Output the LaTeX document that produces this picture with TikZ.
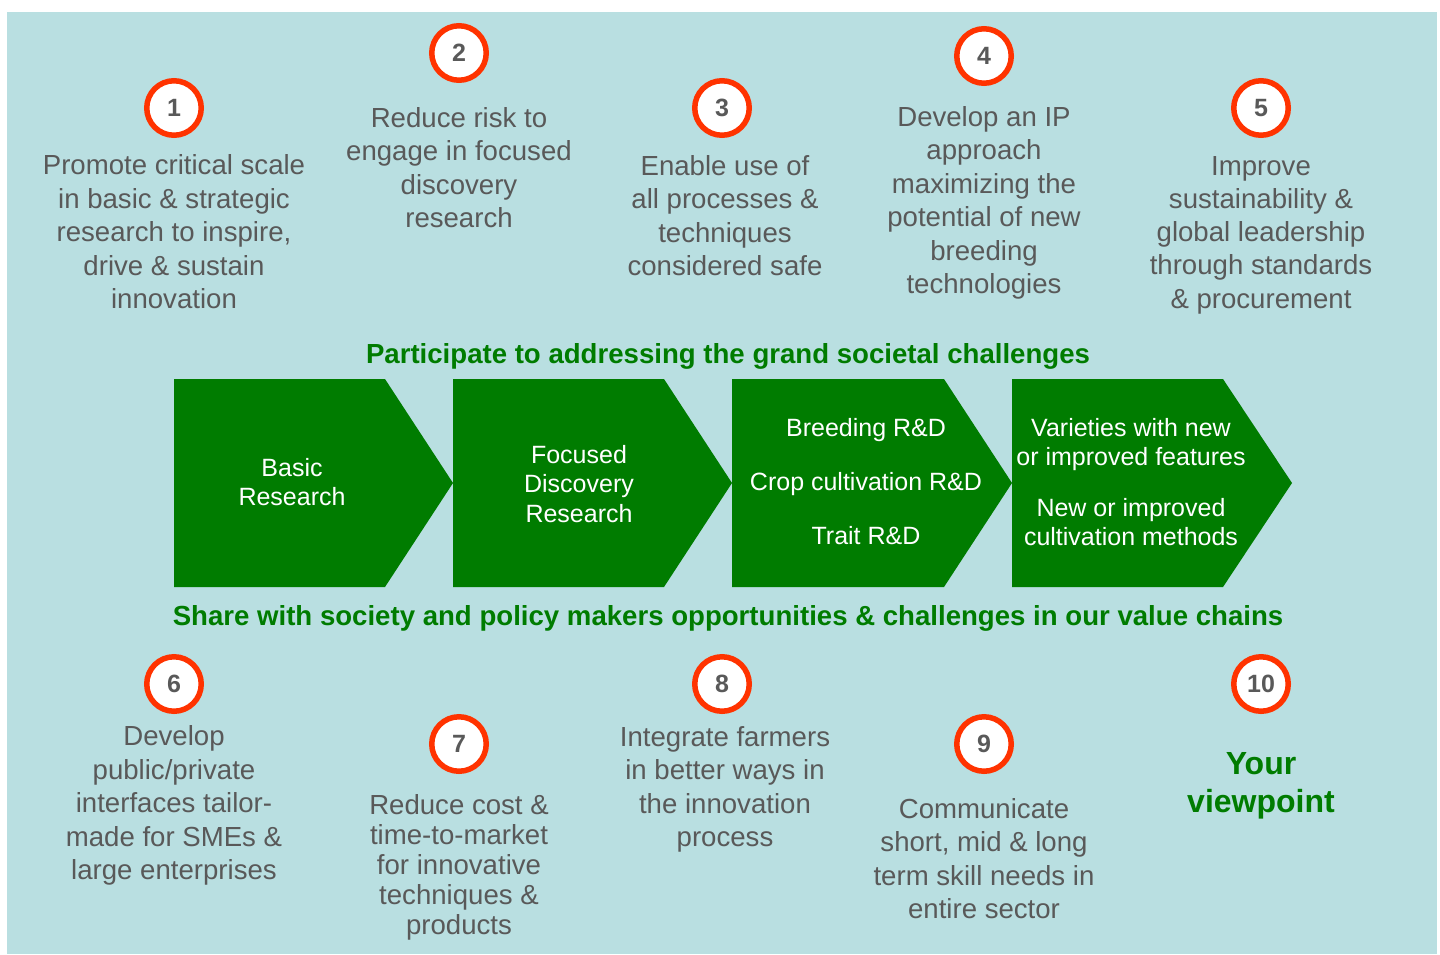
\documentclass[tikz,border=0pt]{standalone}
\usepackage{fontspec}
\setmainfont{Liberation Sans}
\definecolor{bg}{RGB}{185,223,225}
\definecolor{leaf}{RGB}{0,124,0}
\definecolor{ring}{RGB}{255,51,0}
\definecolor{ink}{RGB}{89,89,89}

\begin{document}
\begin{tikzpicture}[x=1pt,y=-1pt,
  numdisc/.style={circle, draw=ring, line width=5.5pt, fill=white,
    minimum size=54.5pt, inner sep=0pt, text=ink,
    font=\fontsize{25}{30}\selectfont\bfseries},
  goal/.style={align=center, text=ink, inner sep=0pt,
    font=\fontsize{27.6}{33.5}\selectfont},
  stage/.style={align=center, text=white, inner sep=0pt,
    font=\fontsize{25}{29.5}\selectfont},
  banner/.style={text=leaf, inner sep=0pt,
    font=\fontsize{27.6}{33}\selectfont\bfseries},
  chev/.style={fill=leaf}]

\useasboundingbox (0,0) rectangle (1440,954);
\fill[bg] (7,12) rectangle (1437,954);

% value-chain chevrons
\fill[chev] (174,379) -- (385,379) -- (453,483) -- (385,587) -- (174,587) -- cycle;
\fill[chev] (453,379) -- (664,379) -- (732,483) -- (664,587) -- (453,587) -- cycle;
\fill[chev] (732,379) -- (944,379) -- (1012,483) -- (944,587) -- (732,587) -- cycle;
\fill[chev] (1012,379) -- (1223,379) -- (1292,483) -- (1223,587) -- (1012,587) -- cycle;

\node[stage] (s1) at (292,482) {Basic\\Research};
\node[stage] (s2) at (579,484) {Focused\\Discovery\\Research};
\node[stage, font=\fontsize{25}{54}\selectfont] (s3) at (866,482)
  {Breeding R\&D\\Crop cultivation R\&D\\Trait R\&D};
\node[stage] (s4) at (1131,482)
  {Varieties with new\\or improved features\\[21pt]New or improved\\cultivation methods};

% banners
\node[banner] (b1) at (728,356) {Participate to addressing the grand societal challenges};
\node[banner] (b2) at (728,618) {Share with society and policy makers opportunities \& challenges in our value chains};

% numbered discs
\node[numdisc] (c1) at (174,108) {1};
\node[numdisc] (c2) at (459,53) {2};
\node[numdisc] (c3) at (722,108) {3};
\node[numdisc] (c4) at (984,56) {4};
\node[numdisc] (c5) at (1261,108) {5};
\node[numdisc] (c6) at (174,684) {6};
\node[numdisc] (c7) at (459,744) {7};
\node[numdisc] (c8) at (722,684) {8};
\node[numdisc] (c9) at (984,744) {9};
\node[numdisc] (c10) at (1261,684) {10};

% goals
\node[goal] (g1) at (174,232) {Promote critical scale\\in basic \& strategic\\research to inspire,\\drive \& sustain\\innovation};
\node[goal] (g2) at (459,167.5) {Reduce risk to\\engage in focused\\discovery\\research};
\node[goal] (g3) at (725,215.5) {Enable use of\\all processes \&\\techniques\\considered safe};
\node[goal] (g4) at (984,203) {Develop an IP\\approach\\maximizing the\\potential of new\\breeding\\technologies};
\node[goal, font=\fontsize{27.6}{33.2}\selectfont] (g5) at (1261,235) {Improve\\sustainability \&\\global leadership\\through standards\\\& procurement};
\node[goal] (g6) at (174,805.5) {Develop\\public/private\\interfaces tailor-\\made for SMEs \&\\large enterprises};
\node[goal, font=\fontsize{27.6}{30}\selectfont] (g7) at (459,867) {Reduce cost \&\\time-to-market\\for innovative\\techniques \&\\products};
\node[goal] (g8) at (725,789.5) {Integrate farmers\\in better ways in\\the innovation\\process};
\node[goal] (g9) at (984,858.5) {Communicate\\short, mid \& long\\term skill needs in\\entire sector};
\node[goal, text=leaf, font=\fontsize{32}{38}\selectfont\bfseries] (g10) at (1261,786) {Your\\viewpoint};

\end{tikzpicture}
\end{document}
